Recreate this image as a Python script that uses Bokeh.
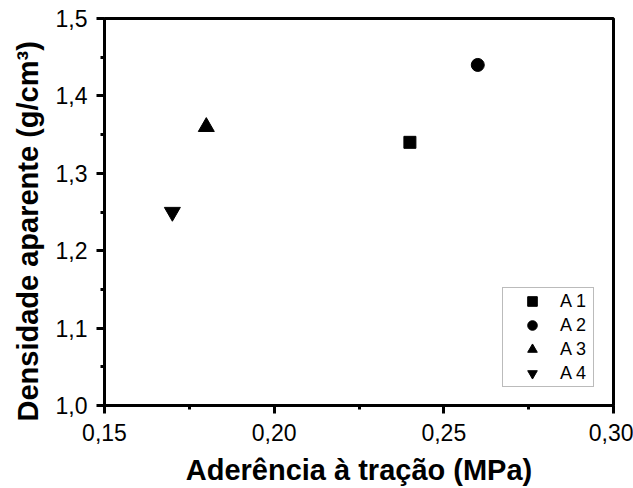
from bokeh.plotting import figure
from bokeh.models import Range1d, FixedTicker, Legend, LegendItem, Title
from bokeh.embed import file_html
from bokeh.resources import INLINE

# data
labels = ["A 1", "A 2", "A 3", "A 4"]
x_vals = [0.24, 0.26, 0.18, 0.17]
y_vals = [1.34, 1.44, 1.36, 1.25]
markers = ["square", "circle", "triangle", "inverted_triangle"]
sizes = [12, 13, 16, 16]

x_ticks = [0.15, 0.20, 0.25, 0.30]
x_tick_labels = ["0,15", "0,20", "0,25", "0,30"]
x_minor = [0.175, 0.225, 0.275]
y_ticks = [1.0, 1.1, 1.2, 1.3, 1.4, 1.5]
y_tick_labels = ["1,0", "1,1", "1,2", "1,3", "1,4", "1,5"]
y_minor = [1.05, 1.15, 1.25, 1.35, 1.45]

x_title = "Aderência à tração (MPa)"
y_title = "Densidade aparente (g/cm³)"

FONT = "Liberation Sans"

p = figure(width=633, height=488, output_backend="svg", toolbar_location=None,
           x_range=Range1d(0.15, 0.30), y_range=Range1d(1.0, 1.5),
           min_border_left=104, min_border_right=20, min_border_top=18, min_border_bottom=82)

p.xgrid.visible = False
p.ygrid.visible = False
p.outline_line_color = "black"
p.outline_line_width = 3
p.background_fill_color = "white"
p.border_fill_color = "white"

p.xaxis.ticker = FixedTicker(ticks=x_ticks, minor_ticks=x_minor)
p.yaxis.ticker = FixedTicker(ticks=y_ticks, minor_ticks=y_minor)
p.xaxis.major_label_overrides = dict(zip(x_ticks, x_tick_labels))
p.yaxis.major_label_overrides = dict(zip(y_ticks, y_tick_labels))

for ax in (p.xaxis, p.yaxis):
    ax.axis_line_width = 3
    ax.axis_line_color = "black"
    ax.major_tick_line_width = 3
    ax.minor_tick_line_width = 3
    ax.major_tick_in = 0
    ax.major_tick_out = 8
    ax.minor_tick_in = 0
    ax.minor_tick_out = 4
    ax.major_label_text_font = FONT
    ax.major_label_text_font_size = "23px"
    ax.major_label_text_color = "black"
    ax.axis_label_text_font = FONT
    ax.axis_label_text_font_size = "29px"
    ax.axis_label_text_font_style = "bold"
    ax.axis_label_text_color = "black"

p.xaxis.axis_label = x_title
p.xaxis.major_label_standoff = 10
p.xaxis.axis_label_standoff = 10
p.yaxis.major_label_standoff = 9

ytitle = Title(text=y_title, align="left", offset=-16, standoff=17,
               text_font=FONT, text_font_size="29px", text_font_style="bold",
               text_color="black")
p.add_layout(ytitle, "left")

items = []
for lab, xv, yv, mk, sz in zip(labels, x_vals, y_vals, markers, sizes):
    r = p.scatter([xv], [yv], marker=mk, size=sz, fill_color="black", line_color="black")
    items.append(LegendItem(label=lab, renderers=[r]))

legend = Legend(items=items, location=(398, 18), padding=1, margin=0,
                glyph_width=56, glyph_height=24, spacing=0, label_standoff=0,
                label_width=32,
                label_text_font=FONT, label_text_font_size="18px",
                label_text_color="black",
                border_line_color="#777777", border_line_width=1,
                background_fill_color="white", background_fill_alpha=1.0)
p.add_layout(legend, "center")

open("out.html", "w").write(file_html(p, INLINE))
